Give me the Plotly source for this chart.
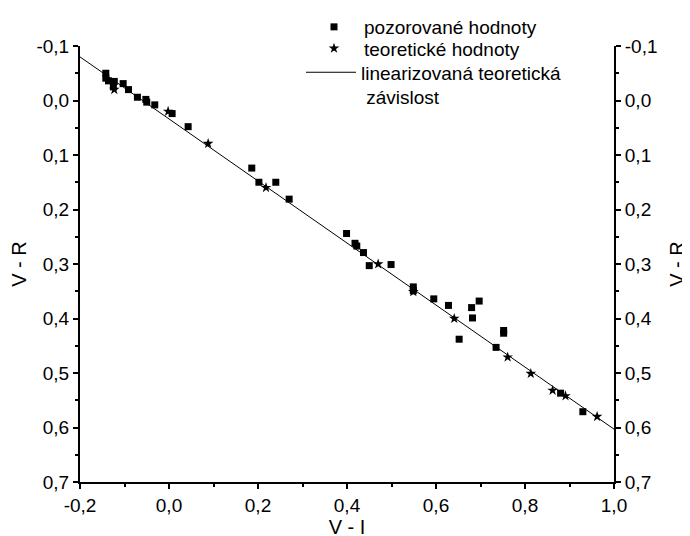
import plotly.graph_objects as go

# Observed values (V-I, V-R)
obs_vi = [-0.142, -0.142, -0.136, -0.123, -0.125, -0.103, -0.091, -0.071, -0.052, -0.050,
          -0.032, 0.007, 0.043, 0.186, 0.202, 0.240, 0.270, 0.399, 0.418, 0.422,
          0.437, 0.450, 0.499, 0.549, 0.549, 0.595, 0.628, 0.680, 0.697, 0.682,
          0.652, 0.752, 0.752, 0.735, 0.880, 0.930]
obs_vr = [-0.050, -0.041, -0.036, -0.035, -0.025, -0.031, -0.020, -0.006, -0.002, 0.003,
          0.008, 0.024, 0.048, 0.124, 0.150, 0.150, 0.181, 0.244, 0.262, 0.267,
          0.279, 0.303, 0.301, 0.342, 0.349, 0.364, 0.376, 0.380, 0.368, 0.399,
          0.438, 0.422, 0.427, 0.453, 0.537, 0.571]

# Theoretical values
th_vi = [-0.123, -0.002, 0.088, 0.218, 0.470, 0.549, 0.641, 0.761, 0.813, 0.862, 0.891, 0.962]
th_vr = [-0.020, 0.020, 0.079, 0.160, 0.300, 0.351, 0.400, 0.471, 0.501, 0.532, 0.542, 0.580]

# Linearized theoretical dependence
lin_vi = [-0.2, 1.0]
lin_vr = [-0.080, 0.603]

x_tickvals = [-0.2, 0.0, 0.2, 0.4, 0.6, 0.8, 1.0]
x_ticktext = ["-0,2", "0,0", "0,2", "0,4", "0,6", "0,8", "1,0"]
x_minor = [-0.1, 0.1, 0.3, 0.5, 0.7, 0.9]
y_tickvals = [-0.1, 0.0, 0.1, 0.2, 0.3, 0.4, 0.5, 0.6, 0.7]
y_ticktext = ["-0,1", "0,0", "0,1", "0,2", "0,3", "0,4", "0,5", "0,6", "0,7"]
y_minor = [-0.05, 0.05, 0.15, 0.25, 0.35, 0.45, 0.55, 0.65]

FONT = "Liberation Sans, Arial, sans-serif"
NB = "\u00a0"

fig = go.Figure()
fig.add_trace(go.Scatter(x=obs_vi, y=obs_vr, mode="markers", legend="legend",
                         name="pozorované hodnoty",
                         marker=dict(symbol="square", size=7, color="black")))
fig.add_trace(go.Scatter(x=th_vi, y=th_vr, mode="markers", legend="legend2",
                         name="teoretické hodnoty",
                         marker=dict(symbol="star", size=8, color="black")))
fig.add_trace(go.Scatter(x=lin_vi, y=lin_vr, mode="lines", yaxis="y2", legend="legend3",
                         name="linearizovaná teoretická<br>" + NB + "závislost",
                         line=dict(color="black", width=1)))

axis_common = dict(showline=True, linecolor="black", linewidth=2, ticks="outside",
                   ticklen=5, tickwidth=2, tickcolor="black", showgrid=False,
                   zeroline=False,
                   tickfont=dict(family=FONT, size=19, color="black"))

PLOT_H = 436
PLOT_W = 534
M_T = 38
legend_common = dict(xanchor="left", yanchor="top",
                     bgcolor="rgba(0,0,0,0)", borderwidth=0,
                     font=dict(family=FONT, size=19, color="black"),
                     valign="top", tracegroupgap=0, itemwidth=50)

fig.update_layout(
    template="none",
    width=690, height=536,
    margin=dict(l=72, r=84, t=M_T, b=62, autoexpand=False),
    paper_bgcolor="white", plot_bgcolor="white",
    font=dict(family=FONT, size=19, color="black"),
    showlegend=True,
    legend=dict(x=(304 - 80) / PLOT_W, y=1 + (M_T - 0) / PLOT_H, **legend_common),
    legend2=dict(x=(304 - 80) / PLOT_W, y=1 + (M_T - 21.4) / PLOT_H, **legend_common),
    legend3=dict(x=(301 - 80) / PLOT_W, y=1 + (M_T - 45.4) / PLOT_H, **legend_common),
    xaxis=dict(range=[-0.2, 1.0], tickmode="array", tickvals=x_tickvals, ticktext=x_ticktext,
               minor=dict(tickmode="array", tickvals=x_minor, ticklen=3, tickwidth=2,
                          ticks="outside", tickcolor="black"),
               automargin=True,
               title=dict(text="V - I", font=dict(family=FONT, size=20), standoff=1),
               **axis_common),
    yaxis=dict(range=[0.7, -0.1], tickmode="array", tickvals=y_tickvals, ticktext=y_ticktext,
               minor=dict(tickmode="array", tickvals=y_minor, ticklen=3, tickwidth=2,
                          ticks="outside", tickcolor="black"),
               automargin=False,
               title=dict(text="V - R", font=dict(family=FONT, size=20), standoff=6),
               **axis_common),
    yaxis2=dict(range=[0.7, -0.1], overlaying="y", side="right", anchor="x",
                tickmode="array", tickvals=y_tickvals, ticktext=y_ticktext,
                minor=dict(tickmode="array", tickvals=y_minor, ticklen=3, tickwidth=2,
                           ticks="outside", tickcolor="black"),
                automargin=False,
                title=dict(text="V - R", font=dict(family=FONT, size=20), standoff=13),
                **axis_common),
)

fig.write_html("out.html")
